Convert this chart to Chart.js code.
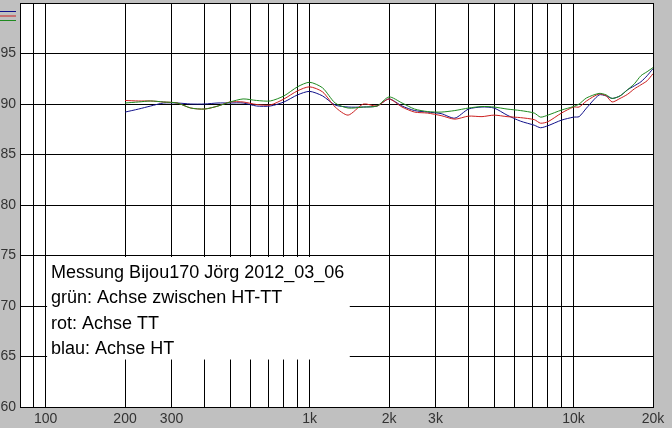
<!DOCTYPE html>
<html>
<head>
<meta charset="utf-8">
<script src="https://cdn.jsdelivr.net/npm/chart.js@4/dist/chart.umd.min.js"></script>
<style>
  body { margin: 0; background: #c0c0c0; }
  canvas { display: block; }
</style>
</head>
<body>
<canvas id="messung" width="672" height="428"></canvas>
<script>
'use strict';

let frequenzen = [200, 225, 250, 280, 315, 355, 400, 450, 500, 560, 630, 710, 800, 900,
  1000, 1120, 1250, 1400, 1600, 1800, 2000, 2240, 2500, 2800, 3150, 3550, 4000, 4500,
  5000, 5600, 6300, 7100, 7500, 8000, 9000, 10000, 10500, 11200, 12500, 13300, 14000,
  15000, 16000, 17000, 18000, 19000, 20000];

let gruen = [90.1, 90.2, 90.3, 90.2, 90.1, 89.6, 89.5, 89.8, 90.2, 90.5, 90.35, 90.3, 90.8, 91.7,
  92.15, 91.6, 90.1, 89.6, 89.7, 89.8, 90.7, 90.1, 89.5, 89.25, 89.2, 89.35, 89.6, 89.75,
  89.7, 89.5, 89.35, 89.1, 88.7, 88.9, 89.4, 89.75, 90.0, 90.6, 91.05, 90.9, 90.55,
  90.8, 91.4, 92.0, 92.8, 93.2, 93.6];

let rot = [90.35, 90.3, 90.3, 90.2, 90.1, 89.6, 89.5, 89.8, 90.2, 90.2, 89.95, 89.9, 90.5, 91.3,
  91.7, 91.2, 89.7, 88.9, 90.0, 89.8, 90.5, 89.7, 89.2, 89.1, 88.85, 88.5, 88.8, 88.75,
  88.9, 88.75, 88.65, 88.45, 88.1, 88.25, 89.1, 89.7, 89.7, 90.3, 91.0, 90.8, 90.2,
  90.55, 90.95, 91.5, 91.9, 92.3, 93.0];

let blau = [89.2, 89.5, 89.8, 90.1, 90.1, 90.0, 90.0, 90.1, 90.1, 90.1, 89.8, 89.8, 90.2, 90.9,
  91.25, 90.8, 89.9, 89.7, 89.7, 89.8, 90.5, 89.8, 89.35, 89.2, 89.05, 88.6, 89.5, 89.7,
  89.6, 88.9, 88.3, 87.9, 87.65, 87.85, 88.4, 88.7, 88.75, 89.6, 90.9, 90.8, 90.55,
  90.8, 91.4, 91.8, 92.2, 92.8, 93.5];

let xGitter = [80, 90, 100, 200, 300, 400, 500, 600, 700, 800, 900,
  1000, 2000, 3000, 4000, 5000, 6000, 7000, 8000, 9000, 10000, 20000];
let xBeschriftungWerte = [100, 200, 300, 1000, 2000, 3000, 10000, 20000];
let xBeschriftungTexte = ['100', '200', '300', '1k', '2k', '3k', '10k', '20k'];

let infoZeilen = [
  'Messung Bijou170 J\u00f6rg 2012_03_06',
  'gr\u00fcn: Achse zwischen HT-TT',
  'rot: Achse TT',
  'blau: Achse HT'
];

let farbeGruen = '#1f8a1f';
let farbeRot = '#cc1f1f';
let farbeBlau = '#10108a';
let schrift = '"Liberation Sans", Arial, sans-serif';

function punkte(werte) {
  return frequenzen.map(function (f, i) {
    return { x: f, y: werte[i] };
  });
}

function kurve(label, werte, farbe) {
  return {
    label: label,
    data: punkte(werte),
    borderColor: farbe,
    borderWidth: 1,
    pointRadius: 0,
    tension: 0.25,
    fill: false
  };
}

// hintergrund, farbstriche oben links und textfeld
let rahmenPlugin = {
  id: 'rahmen',
  beforeDraw: function (chart) {
    let ctx = chart.ctx;
    let a = chart.chartArea;
    ctx.save();
    ctx.fillStyle = '#c0c0c0';
    ctx.fillRect(0, 0, chart.width, chart.height);
    ctx.fillStyle = '#ffffff';
    ctx.fillRect(a.left, a.top, a.right - a.left, a.bottom - a.top);
    ctx.restore();
  },
  afterDraw: function (chart) {
    let ctx = chart.ctx;
    let xs = chart.scales.x;
    let ys = chart.scales.y;
    ctx.save();

    // kleine farbstriche links oben
    [farbeBlau, farbeRot, farbeGruen].forEach(function (c, i) {
      ctx.strokeStyle = c;
      ctx.lineWidth = 1;
      ctx.beginPath();
      ctx.moveTo(0, 11.5 + i * 4.5);
      ctx.lineTo(16, 11.5 + i * 4.5);
      ctx.stroke();
    });

    let links = xs.getPixelForValue(100) + 1.5;
    let rechts = xs.getPixelForValue(1420);
    let oben = ys.getPixelForValue(75) + 1.5;
    let unten = ys.getPixelForValue(64.7);
    ctx.fillStyle = '#ffffff';
    ctx.fillRect(links, oben, rechts - links, unten - oben);

    ctx.fillStyle = '#000000';
    ctx.font = '18px ' + schrift;
    ctx.textBaseline = 'alphabetic';
    infoZeilen.forEach(function (zeile, i) {
      ctx.fillText(zeile, links + 4, oben + 21 + i * 25.3);
    });
    ctx.restore();
  }
};

let config = {
  type: 'line',
  data: {
    datasets: [
      kurve('gr\u00fcn', gruen, farbeGruen),
      kurve('rot', rot, farbeRot),
      kurve('blau', blau, farbeBlau)
    ]
  },
  options: {
    responsive: false,
    animation: false,
    devicePixelRatio: 1,
    layout: { padding: { top: 3, right: 19, left: 0, bottom: 0 } },
    plugins: {
      legend: { display: false },
      tooltip: { enabled: false }
    },
    scales: {
      x: {
        type: 'logarithmic',
        min: 80,
        max: 20000,
        afterBuildTicks: function (scale) {
          scale.ticks = xGitter.map(function (v) { return { value: v }; });
        },
        afterFit: function (scale) {
          scale.height = 21;
          scale.paddingLeft = 0;
          scale.paddingRight = 0;
        },
        grid: { color: '#000000', lineWidth: 1, drawTicks: false },
        border: { color: '#000000' },
        ticks: {
          autoSkip: false,
          maxRotation: 0,
          padding: 4,
          color: '#333333',
          font: { family: schrift, size: 14 },
          callback: function (value) {
            let i = xBeschriftungWerte.indexOf(value);
            return i >= 0 ? xBeschriftungTexte[i] : '';
          }
        }
      },
      y: {
        type: 'linear',
        min: 60,
        max: 100,
        afterFit: function (scale) {
          scale.width = 20;
          scale.paddingTop = 0;
          scale.paddingBottom = 0;
        },
        grid: { color: '#000000', lineWidth: 1, drawTicks: false },
        border: { color: '#000000' },
        ticks: {
          stepSize: 5,
          padding: 4,
          color: '#333333',
          font: { family: schrift, size: 14 },
          callback: function (value) {
            return value === 100 ? '' : String(value);
          }
        }
      }
    }
  },
  plugins: [rahmenPlugin]
};

let canvasMessung = document.getElementById('messung');
new Chart(canvasMessung, config);
</script>
</body>
</html>
